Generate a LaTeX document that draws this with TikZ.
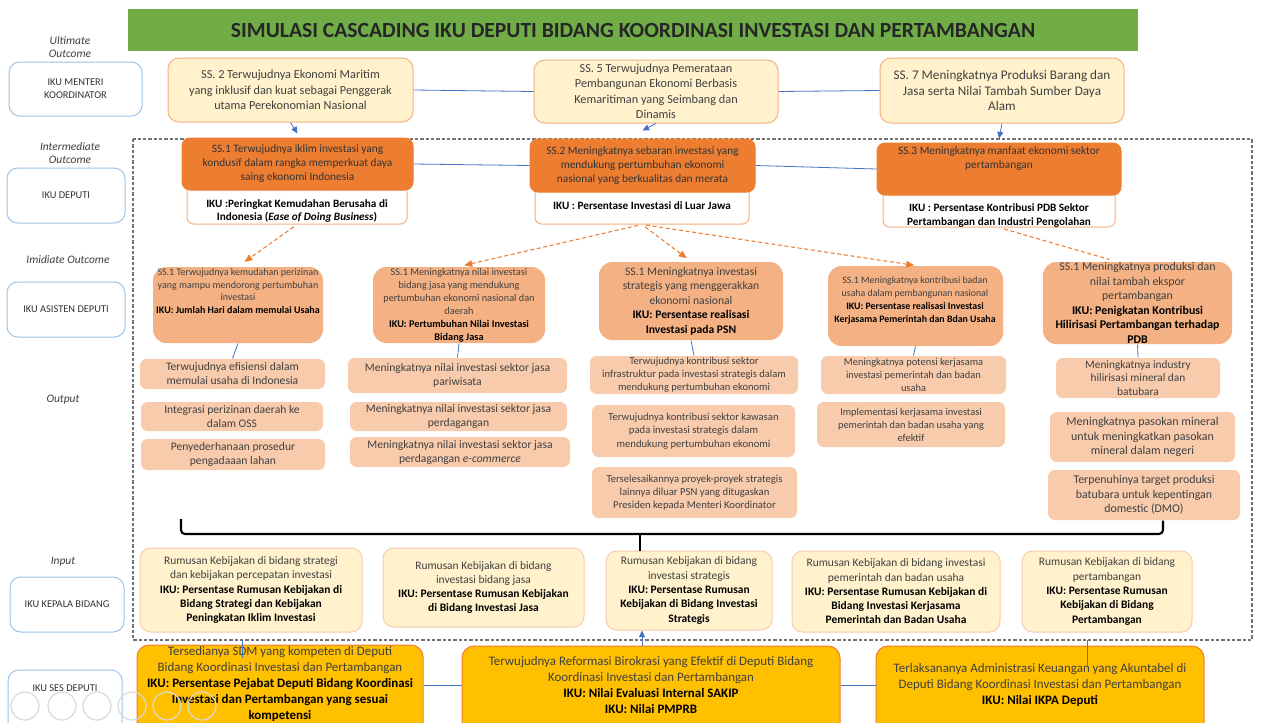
\documentclass[tikz,border=0pt]{standalone}
\usepackage{fontspec}
\setmainfont{Carlito}
\usetikzlibrary{calc,arrows.meta}
\definecolor{titlegreen}{HTML}{70AD47}
\definecolor{lyellow}{HTML}{FFF2CC}
\definecolor{lorange}{HTML}{F4B183}
\definecolor{dorange}{HTML}{ED7D31}
\definecolor{salmon}{HTML}{F4B183}
\definecolor{peach}{HTML}{F8CBAD}
\definecolor{gold}{HTML}{FFC000}
\definecolor{lineblue}{HTML}{4472C4}
\definecolor{lblblue}{HTML}{9DC3E6}
\definecolor{txt}{HTML}{404040}
\newcommand\fs[2]{\fontsize{#1}{#2}\selectfont}
\newcommand\bx[7]{%
  \pgfmathsetmacro\bw{(#5-#3)*0.75}%
  \pgfmathsetmacro\bh{(#6-#4)*0.75}%
  \node[#2, minimum width=\bw pt, minimum height=\bh pt] (#1) at ({(#3+#5)/2},{(#4+#6)/2}) {#7};}
\tikzset{
  base/.style={align=center, inner xsep=2pt, inner ysep=0pt, line width=0.75pt},
  titlebox/.style={base, fill=titlegreen, text=black!85, font=\bfseries\fs{16.2}{18}},
  topb/.style={base, fill=lyellow, draw=lorange, rounded corners=8pt, text=txt, font=\fs{9.2}{11.6}},
  dhead/.style={base, fill=dorange, draw=dorange, rounded corners=6pt, text=black!80, font=\fs{8.5}{10.5}},
  dwhite/.style={base, fill=white, draw=lorange, rounded corners=5pt},
  iku/.style={align=center, inner sep=0pt, font=\bfseries\fs{8.4}{10}, text=black},
  asst/.style={base, fill=salmon, rounded corners=10pt, text=txt},
  atxt/.style={align=center, inner sep=0pt, text=txt},
  outb/.style={base, fill=peach, rounded corners=5pt, text=txt, font=\fs{8.7}{10.5}},
  inp/.style={base, fill=lyellow, draw=peach, rounded corners=8pt, text=txt, font=\fs{8.6}{10.7}},
  botb/.style={base, fill=gold, draw=dorange, rounded corners=9pt},
  btxt/.style={align=center, inner sep=0pt, text=txt, font=\fs{9.7}{12}},
  lbl/.style={base, fill=white, draw=lblblue, rounded corners=8pt, text=black!80, font=\fs{7.8}{10}},
  captxt/.style={align=center, inner sep=0pt, text=txt, font=\itshape\fs{8.6}{9.8}},
  blueline/.style={draw=lineblue, line width=0.6pt},
  bluearrow/.style={blueline, -{Triangle[length=5pt,width=4.5pt]}},
  odash/.style={draw=dorange, line width=0.8pt, dash pattern=on 3pt off 2pt},
  odarrow/.style={odash, -{Triangle[length=6pt,width=5pt]}},
}
\begin{document}
\begin{tikzpicture}[x=0.75pt,y=-0.75pt]
\useasboundingbox (0,0) rectangle (1277,722);
\clip (0,0) rectangle (1277,722);
\fill[white] (0,0) rectangle (1277,722);

% dashed frame
\draw[black!55, line width=0.8pt, dash pattern=on 2.5pt off 1.5pt] (133,139) rectangle (1252,640);

% title
\bx{title}{titlebox}{128}{9}{1138}{51}{SIMULASI CASCADING IKU DEPUTI BIDANG KOORDINASI INVESTASI DAN PERTAMBANGAN}

% left labels
\node[captxt] (c1) at (70,47.5) {Ultimate\\Outcome};
\bx{l1}{lbl}{9}{62}{142}{116}{IKU MENTERI\\KOORDINATOR}
\node[captxt] (c2) at (70,153.5) {Intermediate\\Outcome};
\bx{l2}{lbl}{7}{168}{125}{223}{IKU DEPUTI}
\node[captxt] (c3) at (68,260) {Imidiate Outcome};
\bx{l3}{lbl}{7}{282}{125}{337}{IKU ASISTEN DEPUTI}
\node[captxt] (c4) at (63,400) {Output};
\node[captxt] (c5) at (63,562) {Input};
\bx{l4}{lbl}{10}{577}{124}{632}{IKU KEPALA BIDANG}
\bx{l5}{lbl}{8}{670}{122}{740}{}
\node[lbl, draw=none, fill=none] (l5t) at (65,688) {IKU SES DEPUTI};

% top row
\bx{ss2}{topb}{168}{58}{413}{122}{SS. 2 Terwujudnya Ekonomi Maritim\\yang inklusif dan kuat sebagai Penggerak\\utama Perekonomian Nasional}
\bx{ss5}{topb}{534}{60}{778}{123}{SS. 5 Terwujudnya Pemerataan\\Pembangunan Ekonomi Berbasis\\Kemaritiman yang Seimbang dan\\Dinamis}
\bx{ss7}{topb, font=\fs{9.9}{11.6}}{880}{58}{1124}{123}{SS. 7 Meningkatnya Produksi Barang dan\\Jasa serta Nilai Tambah Sumber Daya\\Alam}
\draw[blueline] (ss2.east) -- (ss5.west);
\draw[blueline] (ss5.east) -- (ss7.west);

% deputi row
\bx{d1w}{dwhite}{187}{182}{407}{224}{}
\bx{d2w}{dwhite}{535}{184}{749}{224}{}
\bx{d3w}{dwhite}{883}{187}{1115}{227}{}
\bx{d1h}{dhead}{182}{138}{413}{190}{SS.1 Terwujudnya iklim investasi yang\\kondusif dalam rangka memperkuat daya\\saing ekonomi Indonesia}
\bx{d2h}{dhead}{530}{139}{755}{192}{SS.2 Meningkatnya sebaran investasi yang\\mendukung pertumbuhan ekonomi\\nasional yang berkualitas dan merata}
\bx{d3h}{dhead}{877}{143}{1121}{195}{}
\node[atxt, text=black!80, font=\fs{8.5}{10.5}] (d3t) at (999,159) {SS.3 Meningkatnya manfaat ekonomi sektor\\pertambangan};
\node[iku] (d1t) at (297,211) {IKU :Peringkat Kemudahan Berusaha di\\Indonesia (\textit{Ease of Doing Business})};
\node[iku] (d2t) at (642,206) {IKU : Persentase Investasi di Luar Jawa};
\node[iku] (d3t2) at (999,215.5) {IKU : Persentase Kontribusi PDB Sektor\\Pertambangan dan Industri Pengolahan};
\draw[blueline] (d1h.east) -- (d2h.west);
\draw[blueline] (d2h.east) -- (d3h.west);
\draw[bluearrow] (ss2.south) -- ($(d1h.north)+(0,-4)$);
\draw[bluearrow] (ss5.south) -- ($(d2h.north)+(0,-8)$);
\draw[bluearrow] (ss7.south) -- ($(d3h.north)+(0,-4)$);

% asisten deputi row
\bx{a1}{asst}{153}{267}{323}{343}{}
\node[atxt, font=\fs{7.5}{9.5}] (a1t) at (238,291) {SS.1 Terwujudnya kemudahan perizinan\\yang mampu mendorong pertumbuhan\\investasi\\\textbf{\color{black}IKU: Jumlah Hari dalam memulai Usaha}};
\bx{a2}{asst, font=\fs{7.7}{9.8}}{373}{267}{545}{343}{SS.1 Meningkatnya nilai investasi\\bidang jasa yang mendukung\\pertumbuhan ekonomi nasional dan\\daerah\\\textbf{\color{black}IKU: Pertumbuhan Nilai Investasi}\\\textbf{\color{black}Bidang Jasa}}
\bx{a3}{asst, font=\fs{8.7}{10.9}}{599}{262}{783}{340}{SS.1 Meningkatnya investasi\\strategis yang menggerakkan\\ekonomi nasional\\\textbf{\color{black}IKU: Persentase realisasi}\\\textbf{\color{black}Investasi pada PSN}}
\bx{a4}{asst}{828}{266}{1003}{346}{}
\node[atxt, font=\fs{7.4}{9.75}] (a4t) at (915,300) {SS.1 Meningkatnya kontribusi badan\\usaha dalam pembangunan nasional\\\textbf{\color{black}IKU: Persentase realisasi Investasi}\\\textbf{\color{black}Kerjasama Pemerintah dan Bdan Usaha}};
\bx{a5}{asst, font=\fs{8.9}{10.9}}{1043}{262}{1232}{344}{SS.1 Meningkatnya produksi dan\\nilai tambah ekspor\\pertambangan\\\textbf{\color{black}IKU: Penigkatan Kontribusi}\\\textbf{\color{black}Hilirisasi Pertambangan terhadap}\\\textbf{\color{black}PDB}}

\draw[odarrow, shorten <=3pt, shorten >=6pt] (d1w.south) -- (a1.north);
\draw[odarrow, shorten <=3pt, shorten >=4pt] (d2w.south) -- (a2.north);
\draw[odarrow, shorten <=3pt, shorten >=4pt] (d2w.south) -- (a3.north);
\draw[odarrow, shorten <=3pt, shorten >=1pt] (d2w.south) -- (a4.north);
\draw[odash, shorten <=4pt] (d3w.south) -- ($(a5.north)+(-28,-2)$);

% outputs
\bx{o1a}{outb}{140}{359}{325}{389}{Terwujudnya efisiensi dalam\\memulai usaha di Indonesia}
\bx{o1b}{outb}{141}{402}{323}{431}{Integrasi perizinan daerah ke\\dalam OSS}
\bx{o1c}{outb}{141}{439}{325}{470}{Penyederhanaan prosedur\\pengadaaan lahan}
\bx{o2a}{outb}{348}{358}{567}{393}{Meningkatnya nilai investasi sektor jasa\\pariwisata}
\bx{o2b}{outb}{350}{402}{567}{431}{Meningkatnya nilai investasi sektor jasa\\perdagangan}
\bx{o2c}{outb}{350}{437}{570}{467}{Meningkatnya nilai investasi sektor jasa\\perdagangan \textit{e-commerce}}
\bx{o3a}{outb, font=\fs{7.9}{9.7}}{590}{356}{798}{394}{Terwujudnya kontribusi sektor\\infrastruktur pada investasi strategis dalam\\mendukung pertumbuhan ekonomi}
\bx{o3b}{outb, font=\fs{8}{10.3}}{592}{405}{795}{457}{Terwujudnya kontribusi sektor kawasan\\pada investasi strategis dalam\\mendukung pertumbuhan ekonomi}
\bx{o3c}{outb, font=\fs{8}{10}}{592}{467}{797}{518}{Terselesaikannya proyek-proyek strategis\\lainnya diluar PSN yang ditugaskan\\Presiden kepada Menteri Koordinator}
\bx{o4a}{outb, font=\fs{7.8}{9.75}}{821}{356}{1006}{394}{Meningkatnya potensi kerjasama\\investasi pemerintah dan badan\\usaha}
\bx{o4b}{outb, font=\fs{7.8}{9.75}}{817}{402}{1005}{447}{Implementasi kerjasama investasi\\pemerintah dan badan usaha yang\\efektif}
\bx{o5a}{outb, font=\fs{8.5}{10.2}}{1056}{358}{1220}{398}{Meningkatnya industry\\hilirisasi mineral dan\\batubara}
\bx{o5b}{outb, font=\fs{9}{10.9}}{1050}{412}{1235}{462}{Meningkatnya pasokan mineral\\untuk meningkatkan pasokan\\mineral dalam negeri}
\bx{o5c}{outb, font=\fs{8.9}{10.9}}{1048}{470}{1240}{520}{Terpenuhinya target produksi\\batubara untuk kepentingan\\domestic (DMO)}

\draw[blueline] (a1.south) -- (o1a.north);
\draw[blueline] (a2.south) -- (o2a.north);
\draw[blueline] (a3.south) -- (o3a.north);
\draw[blueline] (a4.south) -- (o4a.north);
\draw[blueline] (a5.south) -- (o5a.north);

% inputs
\bx{i1}{inp}{140}{548}{362}{632}{Rumusan Kebijakan di bidang strategi\\dan kebijakan percepatan investasi\\\textbf{\color{black}IKU: Persentase Rumusan Kebijakan di}\\\textbf{\color{black}Bidang Strategi dan Kebijakan}\\\textbf{\color{black}Peningkatan Iklim Investasi}}
\bx{i2}{inp}{383}{548}{584}{627}{Rumusan Kebijakan di bidang\\investasi bidang jasa\\\textbf{\color{black}IKU: Persentase Rumusan Kebijakan}\\\textbf{\color{black}di Bidang Investasi Jasa}}
\bx{i3}{inp}{606}{551}{772}{630}{Rumusan Kebijakan di bidang\\investasi strategis\\\textbf{\color{black}IKU: Persentase Rumusan}\\\textbf{\color{black}Kebijakan di Bidang Investasi}\\\textbf{\color{black}Strategis}}
\bx{i4}{inp}{792}{551}{1000}{632}{Rumusan Kebijakan di bidang investasi\\pemerintah dan badan usaha\\\textbf{\color{black}IKU: Persentase Rumusan Kebijakan di}\\\textbf{\color{black}Bidang Investasi Kerjasama}\\\textbf{\color{black}Pemerintah dan Badan Usaha}}
\bx{i5}{inp}{1022}{551}{1192}{632}{Rumusan Kebijakan di bidang\\pertambangan\\\textbf{\color{black}IKU: Persentase Rumusan}\\\textbf{\color{black}Kebijakan di Bidang}\\\textbf{\color{black}Pertambangan}}

% bracket
\coordinate (brk) at (640,534);
\coordinate (brl) at (181,534);
\coordinate (brr) at (1163,534);
\draw[black, line width=1.6pt, rounded corners=3pt] ($(brl)+(0,-15)$) -- (brl) -- (brr) -- (brr |- o5c.south);
\draw[black, line width=1.2pt] (brk) -- (brk |- i3.north);

% bottom row
\bx{b1}{botb}{137}{645}{423}{740}{}
\bx{b2}{botb}{462}{646}{840}{740}{}
\bx{b3}{botb}{876}{646}{1204}{740}{}
\node[btxt] (b1t) at (280,684) {Tersedianya SDM yang kompeten di Deputi\\Bidang Koordinasi Investasi dan Pertambangan\\\textbf{\color{black}IKU: Persentase Pejabat Deputi Bidang Koordinasi}\\\textbf{\color{black}Investasi dan Pertambangan yang sesuai}\\\textbf{\color{black}kompetensi}};
\node[btxt] (b2t) at (651,685) {Terwujudnya Reformasi Birokrasi yang Efektif di Deputi Bidang\\Koordinasi Investasi dan Pertambangan\\\textbf{\color{black}IKU: Nilai Evaluasi Internal SAKIP}\\\textbf{\color{black}IKU: Nilai PMPRB}};
\node[btxt] (b3t) at (1040,685) {Terlaksananya Administrasi Keuangan yang Akuntabel di\\Deputi Bidang Koordinasi Investasi dan Pertambangan\\\textbf{\color{black}IKU: Nilai IKPA Deputi}};
\draw[blueline] (b1.east |- 0,685) -- (b2.west |- 0,685);
\draw[blueline] (b2.east |- 0,685) -- (b3.west |- 0,685);
\coordinate (ax) at (642,0);
\draw[bluearrow] (b2.north -| ax) -- (i3.south -| ax);
\coordinate (t1) at (242,640);
\coordinate (t3) at (1087,640);
\draw[blueline] (t1) -- ++(0,18);
\draw[blueline] (t3) -- ++(0,26);

% slideshow controls overlay
\foreach \cx in {25,62,97,132,167,202}
  \draw[black!15, line width=0.9pt] (\cx,706) circle[radius=10.5pt];
\end{tikzpicture}
\end{document}
